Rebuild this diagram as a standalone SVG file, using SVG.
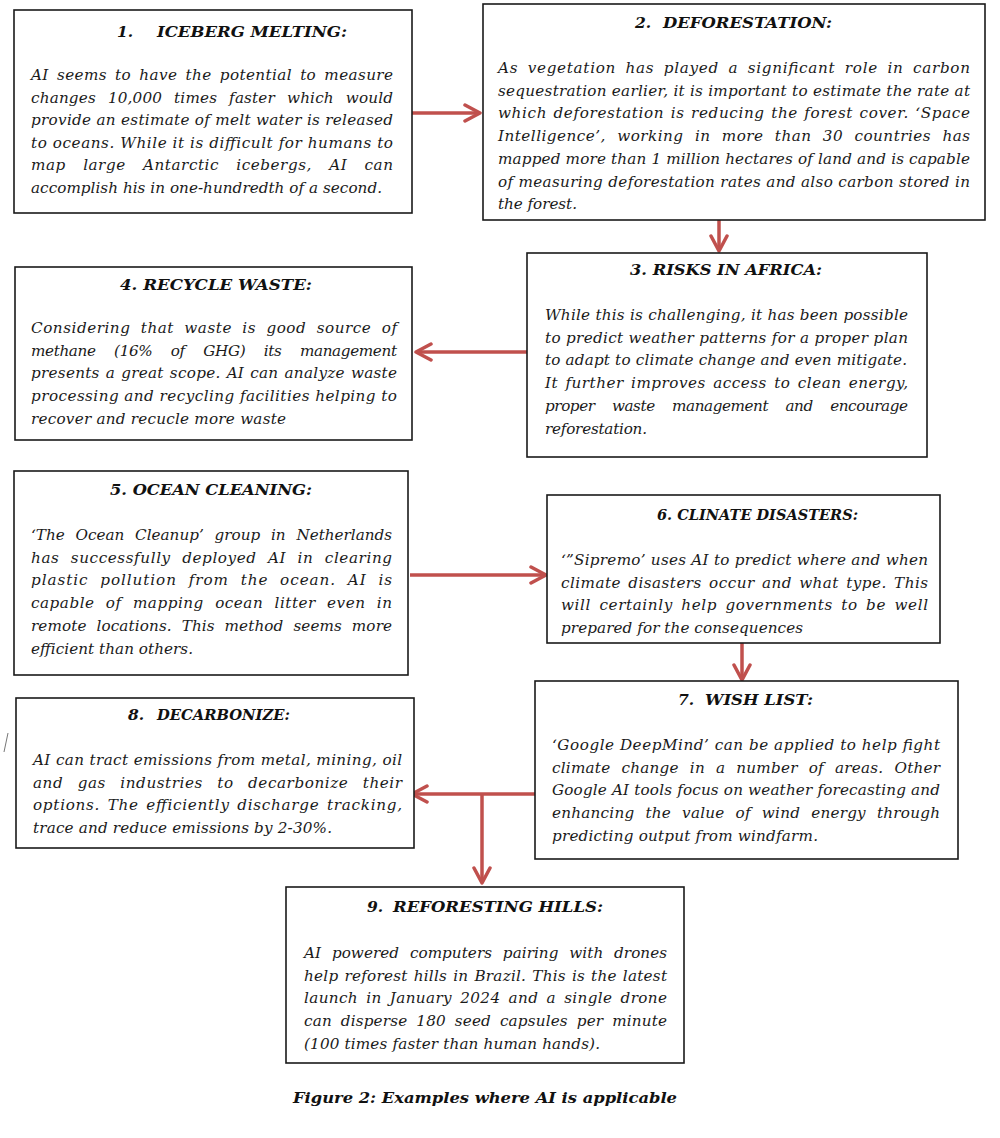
<svg xmlns="http://www.w3.org/2000/svg" width="1000" height="1138" viewBox="0 0 1000 1138">
<style>
.box{fill:#fff;stroke:#1a1a1a;stroke-width:1.6}
.t{font-family:"DejaVu Serif","Liberation Serif",serif;font-style:italic;font-weight:bold;font-size:15.5px;fill:#111}
.b{font-family:"DejaVu Serif","Liberation Serif",serif;font-style:italic;font-size:15.2px;fill:#1a1a1a}
.c{fill:none;stroke:#C0504D;stroke-width:3.5;marker-end:url(#ah)}
</style>
<defs>
<marker id="ah" viewBox="0 0 20 20" markerWidth="20" markerHeight="20" markerUnits="userSpaceOnUse" refX="17" refY="10" orient="auto">
<path d="M2,2 L17,10 L2,18" fill="none" stroke="#C0504D" stroke-width="3.5" stroke-linecap="round" stroke-linejoin="round"/>
</marker>
<clipPath id="clip6"><rect x="547" y="495" width="393" height="142"/></clipPath>
</defs>
<rect width="1000" height="1138" fill="#fff"/>

<g id="connectors">
<path class="c" d="M410,113 H480"/>
<path class="c" d="M719,220 V251"/>
<path class="c" d="M527,352 H416"/>
<path class="c" d="M410,575 H546"/>
<path class="c" d="M742,643 V680"/>
<path class="c" d="M535,794 H412"/>
<path class="c" d="M482,794 V883"/>
</g>

<g id="node1">
<rect class="box" x="14" y="10" width="398" height="203"/>
<text class="t" x="117" y="37">1.</text>
<text class="t" x="157" y="37" textLength="190" lengthAdjust="spacingAndGlyphs">ICEBERG MELTING:</text>
<text class="b" x="31" y="80" textLength="362" style="word-spacing:3px">AI seems to have the potential to measure</text>
<text class="b" x="31" y="102.6" textLength="362" style="word-spacing:7px">changes 10,000 times faster which would</text>
<text class="b" x="31" y="125.2" textLength="362">provide an estimate of melt water is released</text>
<text class="b" x="31" y="147.8" textLength="362">to oceans. While it is difficult for humans to</text>
<text class="b" x="31" y="170.4" textLength="362" style="word-spacing:12px">map large Antarctic icebergs, AI can</text>
<text class="b" x="31" y="193" textLength="351">accomplish his in one-hundredth of a second.</text>
</g>

<g id="node2">
<rect class="box" x="483" y="4" width="502" height="216"/>
<text class="t" x="635" y="28">2.</text>
<text class="t" x="663" y="28" textLength="169" lengthAdjust="spacingAndGlyphs">DEFORESTATION:</text>
<text class="b" x="498" y="73" textLength="472" style="word-spacing:4px">As vegetation has played a significant role in carbon</text>
<text class="b" x="498" y="95.7" textLength="472">sequestration earlier, it is important to estimate the rate at</text>
<text class="b" x="498" y="118.4" textLength="472" style="word-spacing:1px">which deforestation is reducing the forest cover.  ‘Space</text>
<text class="b" x="498" y="141.1" textLength="472" style="word-spacing:6px">Intelligence’, working in more than 30 countries has</text>
<text class="b" x="498" y="163.8" textLength="472">mapped more than 1 million hectares of land and is capable</text>
<text class="b" x="498" y="186.5" textLength="472">of measuring deforestation rates and also carbon stored in</text>
<text class="b" x="498" y="209.2" textLength="79">the forest.</text>
</g>

<g id="node3">
<rect class="box" x="527" y="253" width="400" height="204"/>
<text class="t" x="630" y="275" textLength="192" lengthAdjust="spacingAndGlyphs">3. RISKS IN AFRICA:</text>
<text class="b" x="545" y="320" textLength="363">While this is challenging, it has been possible</text>
<text class="b" x="545" y="342.7" textLength="363">to predict weather patterns for a proper plan</text>
<text class="b" x="545" y="365.4" textLength="362">to adapt to climate change and even mitigate.</text>
<text class="b" x="545" y="388.1" textLength="363" style="word-spacing:2px">It further improves access to clean energy,</text>
<text class="b" x="545" y="410.8" textLength="363" style="word-spacing:13px">proper waste management and encourage</text>
<text class="b" x="545" y="433.5" textLength="102">reforestation.</text>
</g>

<g id="node4">
<rect class="box" x="15" y="267" width="397" height="173"/>
<text class="t" x="120" y="290" textLength="192" lengthAdjust="spacingAndGlyphs">4. RECYCLE WASTE:</text>
<text class="b" x="31" y="333" textLength="366" style="word-spacing:5px">Considering that waste is good source of</text>
<text class="b" x="31" y="355.7" textLength="366" style="word-spacing:14px">methane (16% of GHG) its management</text>
<text class="b" x="31" y="378.4" textLength="366" style="word-spacing:1px">presents a great scope.  AI can analyze waste</text>
<text class="b" x="31" y="401.1" textLength="366">processing and recycling facilities helping to</text>
<text class="b" x="31" y="423.8" textLength="255">recover and recucle more waste</text>
</g>

<g id="node5">
<rect class="box" x="14" y="471" width="394" height="204"/>
<text class="t" x="110" y="495" textLength="202" lengthAdjust="spacingAndGlyphs">5. OCEAN CLEANING:</text>
<text class="b" x="31" y="540" textLength="361" style="word-spacing:6px">‘The Ocean Cleanup’ group in Netherlands</text>
<text class="b" x="31" y="562.7" textLength="361" style="word-spacing:6px">has successfully deployed AI in clearing</text>
<text class="b" x="31" y="585.4" textLength="361" style="word-spacing:6px">plastic pollution from the ocean.   AI is</text>
<text class="b" x="31" y="608.1" textLength="361" style="word-spacing:6px">capable of mapping ocean litter even in</text>
<text class="b" x="31" y="630.8" textLength="361" style="word-spacing:5px">remote locations.  This method seems more</text>
<text class="b" x="31" y="653.5" textLength="162">efficient than others.</text>
</g>

<g id="node6">
<rect class="box" x="547" y="495" width="393" height="148"/>
<text class="t" x="657" y="520" textLength="201" lengthAdjust="spacingAndGlyphs">6. CLINATE DISASTERS:</text>
<g clip-path="url(#clip6)">
<text class="b" x="561" y="565" textLength="367">‘”Sipremo’ uses AI to predict where and when</text>
<text class="b" x="561" y="587.7" textLength="367" style="word-spacing:2px">climate disasters occur and what type.  This</text>
<text class="b" x="561" y="610.4" textLength="367" style="word-spacing:3px">will certainly help governments to be well</text>
<text class="b" x="561" y="633.1" textLength="242">prepared for the consequences</text>
</g>
</g>

<g id="node7">
<rect class="box" x="535" y="681" width="423" height="178"/>
<text class="t" x="678" y="705">7.</text>
<text class="t" x="705" y="705" textLength="108" lengthAdjust="spacingAndGlyphs">WISH LIST:</text>
<text class="b" x="552" y="750" textLength="388">‘Google DeepMind’ can be applied to help fight</text>
<text class="b" x="552" y="772.7" textLength="388" style="word-spacing:6px">climate change in a number of areas.  Other</text>
<text class="b" x="552" y="795.4" textLength="388">Google AI tools focus on weather forecasting and</text>
<text class="b" x="552" y="818.1" textLength="388" style="word-spacing:6px">enhancing the value of wind energy through</text>
<text class="b" x="552" y="840.8" textLength="266">predicting output from windfarm.</text>
</g>

<g id="node8">
<rect class="box" x="16" y="698" width="398" height="150"/>
<text class="t" x="128" y="720">8.</text>
<text class="t" x="157" y="720" textLength="133" lengthAdjust="spacingAndGlyphs">DECARBONIZE:</text>
<text class="b" x="33" y="765" textLength="369">AI can tract emissions from metal, mining, oil</text>
<text class="b" x="33" y="787.7" textLength="369" style="word-spacing:9px">and gas industries to decarbonize their</text>
<text class="b" x="33" y="810.4" textLength="369" style="word-spacing:2px">options.  The efficiently discharge tracking,</text>
<text class="b" x="33" y="833.1" textLength="299">trace and reduce emissions by 2-30%.</text>
</g>

<g id="node9">
<rect class="box" x="286" y="887" width="398" height="176"/>
<text class="t" x="367" y="912">9.</text>
<text class="t" x="393" y="912" textLength="210" lengthAdjust="spacingAndGlyphs">REFORESTING HILLS:</text>
<text class="b" x="304" y="958" textLength="363" style="word-spacing:6px">AI powered computers pairing with drones</text>
<text class="b" x="304" y="980.7" textLength="363" style="word-spacing:1px">help reforest hills in Brazil.   This is the latest</text>
<text class="b" x="304" y="1003.4" textLength="363" style="word-spacing:3px">launch in January 2024 and a single drone</text>
<text class="b" x="304" y="1026.1" textLength="363" style="word-spacing:4px">can disperse 180 seed capsules per minute</text>
<text class="b" x="304" y="1048.8" textLength="296">(100 times faster than human hands).</text>
</g>

<line x1="8" y1="733" x2="4" y2="752" stroke="#777" stroke-width="1"/>
<text class="t" x="293" y="1103" textLength="384" lengthAdjust="spacingAndGlyphs">Figure 2: Examples where AI is applicable</text>
</svg>
